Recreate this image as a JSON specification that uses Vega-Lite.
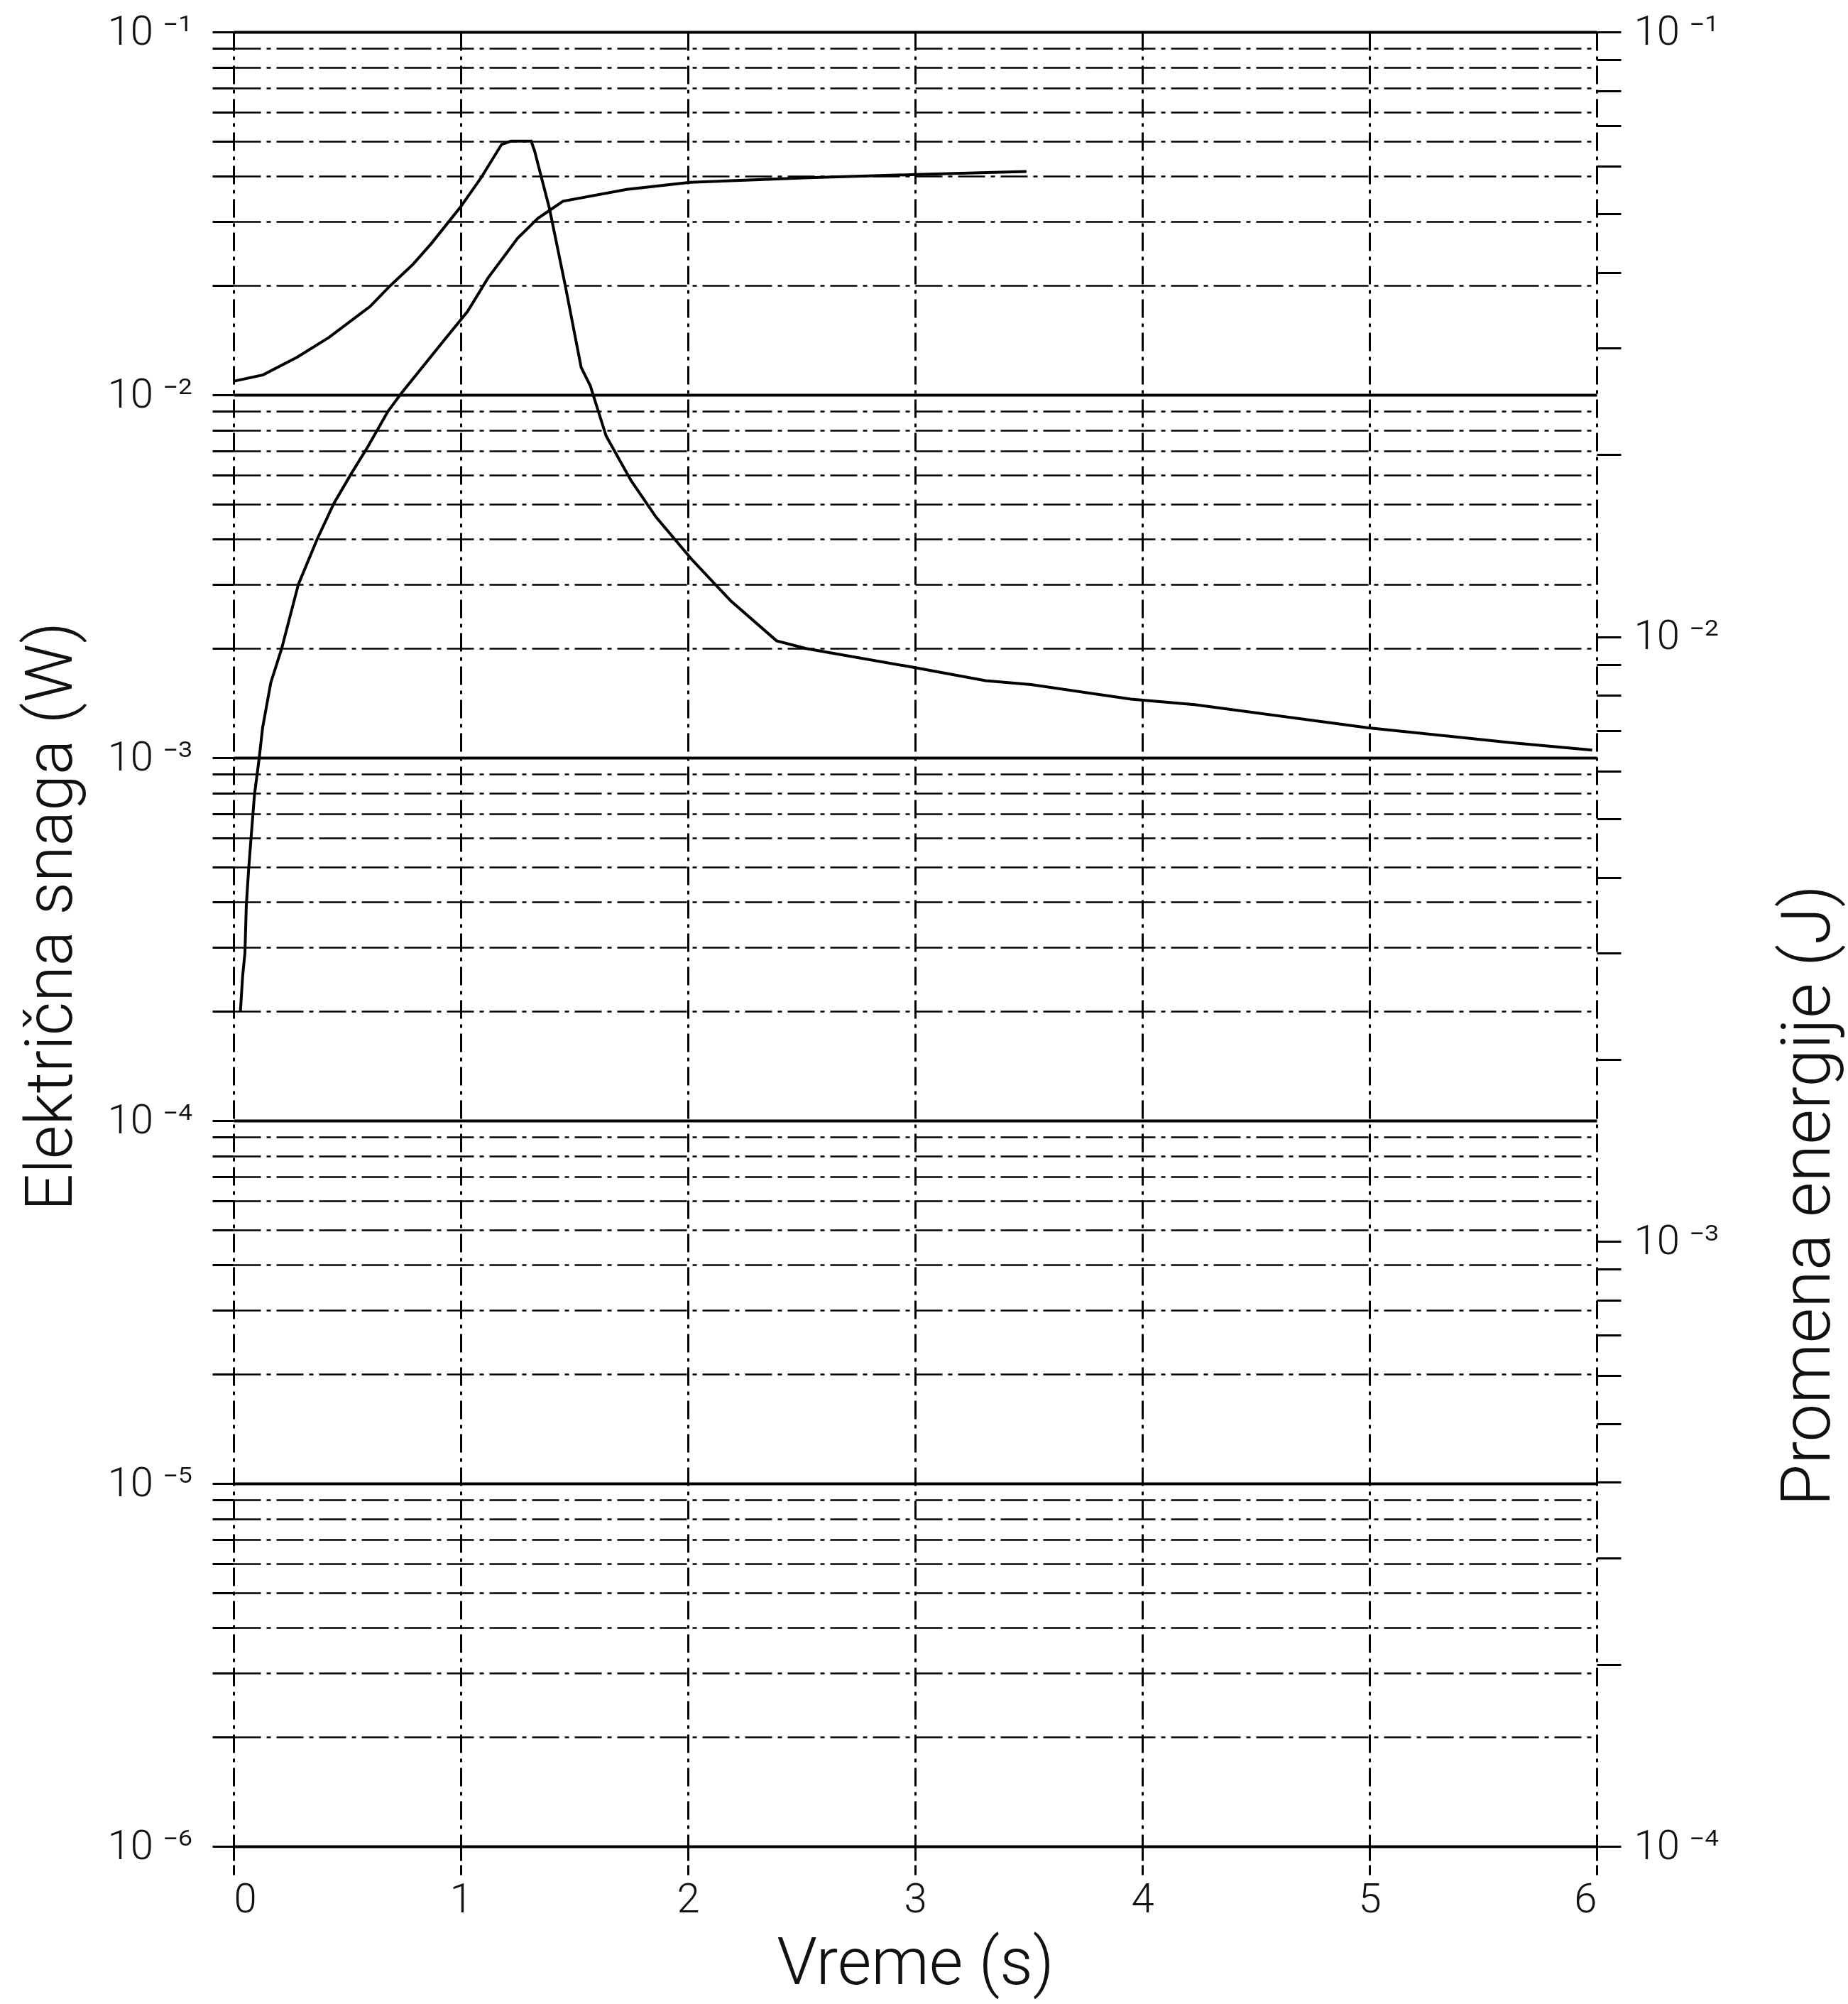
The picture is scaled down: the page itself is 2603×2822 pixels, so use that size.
{
  "$schema": "https://vega.github.io/schema/vega-lite/v6.json",
  "width": 1920,
  "height": 2555,
  "autosize": {"type": "none"},
  "padding": {"left": 329, "top": 45, "right": 354, "bottom": 222},
  "background": "white",
  "config": {
    "view": {"stroke": null},
    "axis": {"labelFont": "Roboto", "titleFont": "Roboto", "labelColor": "#111111", "titleColor": "#111111", "labelFontWeight": 300, "titleFontWeight": 300}
  },
  "datasets": {
    "power": [
      {"t": 0.0, "p": 0.0109}, {"t": 0.13, "p": 0.01135}, {"t": 0.28, "p": 0.0127}, {"t": 0.42, "p": 0.0144},
      {"t": 0.6, "p": 0.0175}, {"t": 0.69, "p": 0.02}, {"t": 0.79, "p": 0.0229}, {"t": 0.87, "p": 0.0261},
      {"t": 1.0, "p": 0.033}, {"t": 1.09, "p": 0.0397}, {"t": 1.18, "p": 0.049}, {"t": 1.22, "p": 0.05},
      {"t": 1.31, "p": 0.05}, {"t": 1.325, "p": 0.047}, {"t": 1.39, "p": 0.0327}, {"t": 1.46, "p": 0.02},
      {"t": 1.53, "p": 0.0119}, {"t": 1.57, "p": 0.0106}, {"t": 1.64, "p": 0.0077}, {"t": 1.75, "p": 0.0058},
      {"t": 1.86, "p": 0.0046}, {"t": 2.02, "p": 0.0035}, {"t": 2.19, "p": 0.0027}, {"t": 2.39, "p": 0.0021},
      {"t": 2.52, "p": 0.002}, {"t": 2.98, "p": 0.00178}, {"t": 3.31, "p": 0.00163}, {"t": 3.51, "p": 0.00159},
      {"t": 3.95, "p": 0.00145}, {"t": 4.23, "p": 0.0014}, {"t": 4.99, "p": 0.00121}, {"t": 5.62, "p": 0.0011},
      {"t": 5.98, "p": 0.00105}
    ],
    "energy": [
      {"t": 0.03, "e": 0.0024}, {"t": 0.04, "e": 0.00275}, {"t": 0.05, "e": 0.003}, {"t": 0.056, "e": 0.00359},
      {"t": 0.066, "e": 0.00411}, {"t": 0.076, "e": 0.0046}, {"t": 0.092, "e": 0.00548}, {"t": 0.113, "e": 0.00631},
      {"t": 0.128, "e": 0.00708}, {"t": 0.164, "e": 0.0084}, {"t": 0.212, "e": 0.00957}, {"t": 0.285, "e": 0.0122},
      {"t": 0.368, "e": 0.0145}, {"t": 0.441, "e": 0.0166}, {"t": 0.514, "e": 0.0185}, {"t": 0.587, "e": 0.0205},
      {"t": 0.68, "e": 0.0236}, {"t": 0.743, "e": 0.0254}, {"t": 0.92, "e": 0.0307}, {"t": 1.03, "e": 0.0345},
      {"t": 1.12, "e": 0.0392}, {"t": 1.25, "e": 0.0456}, {"t": 1.34, "e": 0.0492}, {"t": 1.45, "e": 0.0525},
      {"t": 1.73, "e": 0.0549}, {"t": 2.01, "e": 0.0564}, {"t": 2.53, "e": 0.0574}, {"t": 3.0, "e": 0.0581},
      {"t": 3.49, "e": 0.0588}
    ]
  },
  "encoding": {
    "x": {
      "field": "t", "type": "quantitative",
      "scale": {"domain": [0, 6], "nice": false, "zero": false},
      "axis": {
        "values": [0, 1, 2, 3, 4, 5, 6], "format": "d", "title": "Vreme (s)",
        "grid": true, "gridColor": "black", "gridWidth": 3, "gridDash": [26, 8, 5, 8],
        "domain": false, "ticks": true, "tickSize": 40, "tickColor": "black", "tickWidth": 3, "tickDash": [20, 6],
        "labelFontSize": 58, "labelPadding": 6,
        "titleFontSize": 92, "titleY": 165, "titleBaseline": "middle"
      }
    }
  },
  "layer": [
    {
      "data": {"name": "power"},
      "mark": {"type": "line", "color": "black", "strokeWidth": 4},
      "encoding": {
        "y": {
          "field": "p", "type": "quantitative",
          "scale": {"type": "log", "domain": [0.000001, 0.1], "nice": false},
          "axis": {
            "orient": "left",
            "values": [0.000001, 0.000002, 0.000003, 0.000004, 0.000005, 0.000006, 0.000007, 0.000008, 0.000009,
                       0.00001, 0.00002, 0.00003, 0.00004, 0.00005, 0.00006, 0.00007, 0.00008, 0.00009,
                       0.0001, 0.0002, 0.0003, 0.0004, 0.0005, 0.0006, 0.0007, 0.0008, 0.0009,
                       0.001, 0.002, 0.003, 0.004, 0.005, 0.006, 0.007, 0.008, 0.009,
                       0.01, 0.02, 0.03, 0.04, 0.05, 0.06, 0.07, 0.08, 0.09, 0.1],
            "labelExpr": "abs(log(datum.value)/LN10 - round(log(datum.value)/LN10)) < 0.001 ? '10 ⁻' + (round(-log(datum.value)/LN10) == 1 ? '¹' : round(-log(datum.value)/LN10) == 2 ? '²' : round(-log(datum.value)/LN10) == 3 ? '³' : round(-log(datum.value)/LN10) == 4 ? '⁴' : round(-log(datum.value)/LN10) == 5 ? '⁵' : '⁶') : ''",
            "labelFontSize": 58, "labelPadding": 28,
            "grid": true, "gridColor": "black",
            "gridDash": {"condition": {"test": "abs(log(datum.value)/LN10 - round(log(datum.value)/LN10)) < 0.001", "value": []}, "value": [38, 8, 6, 8]},
            "gridWidth": {"condition": {"test": "abs(log(datum.value)/LN10 - round(log(datum.value)/LN10)) < 0.001", "value": 4}, "value": 2.5},
            "domain": false, "ticks": true, "tickSize": 30, "tickColor": "black", "tickWidth": 3,
            "title": "Električna snaga (W)", "titleFontSize": 92, "titleAngle": 270,
            "titleX": -257, "titleY": 1245, "titleBaseline": "middle", "titleAlign": "center"
          }
        }
      }
    },
    {
      "data": {"name": "energy"},
      "mark": {"type": "line", "color": "black", "strokeWidth": 4},
      "encoding": {
        "y": {
          "field": "e", "type": "quantitative",
          "scale": {"type": "log", "domain": [0.0001, 0.1], "nice": false},
          "axis": {
            "orient": "right",
            "values": [0.0001, 0.0002, 0.0003, 0.0004, 0.0005, 0.0006, 0.0007, 0.0008, 0.0009,
                       0.001, 0.002, 0.003, 0.004, 0.005, 0.006, 0.007, 0.008, 0.009,
                       0.01, 0.02, 0.03, 0.04, 0.05, 0.06, 0.07, 0.08, 0.09, 0.1],
            "labelExpr": "abs(log(datum.value)/LN10 - round(log(datum.value)/LN10)) < 0.001 ? '10 ⁻' + (round(-log(datum.value)/LN10) == 1 ? '¹' : round(-log(datum.value)/LN10) == 2 ? '²' : round(-log(datum.value)/LN10) == 3 ? '³' : '⁴') : ''",
            "labelFontSize": 58, "labelPadding": 18,
            "grid": false, "domain": false,
            "ticks": true, "tickSize": 34, "tickColor": "black", "tickWidth": 3,
            "title": "Promena energije (J)", "titleFontSize": 96, "titleAngle": 270,
            "titleX": 298, "titleY": 1638, "titleBaseline": "middle", "titleAlign": "center"
          }
        }
      }
    }
  ],
  "resolve": {"scale": {"y": "independent"}}
}
